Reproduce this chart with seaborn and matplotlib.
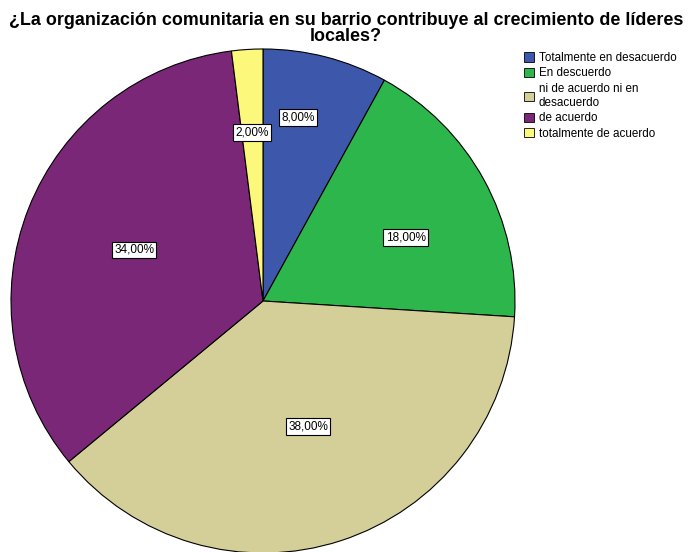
import numpy as np
import matplotlib
matplotlib.use("Agg")
import matplotlib.pyplot as plt
import seaborn as sns
from matplotlib.patches import Patch

sns.set_theme(style="white")
plt.rcParams['font.family'] = ['Liberation Sans', 'DejaVu Sans']
plt.rcParams['text.color'] = 'black'

categories = ["Totalmente en desacuerdo", "En descuerdo", "ni de acuerdo ni en\ndesacuerdo",
              "de acuerdo", "totalmente de acuerdo"]
values = [8.0, 18.0, 38.0, 34.0, 2.0]
pct_labels = ["8,00%", "18,00%", "38,00%", "34,00%", "2,00%"]
colors = ["#3D58AB", "#2DB64B", "#D4CE98", "#7B2778", "#FBF87B"]
label_dist = [0.74, 0.62, 0.53, 0.55, 0.67]
label_shift = [3.6, -4.7, 1.7, 0.0, 0.0]

fig = plt.figure(figsize=(6.89, 5.52), dpi=100)
ax = fig.add_axes([11/689, -1/552, 504/689, 504/552])
wedges, _ = ax.pie(values, colors=colors, startangle=90, counterclock=False,
                   radius=1.0, wedgeprops=dict(edgecolor="black", linewidth=0.8))
ax.set_xlim(-1, 1)
ax.set_ylim(-1, 1)
ax.set_aspect("equal")
ax.axis("off")

for w, lab, d, s in zip(wedges, pct_labels, label_dist, label_shift):
    ang = np.deg2rad((w.theta1 + w.theta2) / 2 + s)
    ax.text(d * np.cos(ang), d * np.sin(ang), lab, ha="center", va="center", fontsize=8.5,
            color="black",
            bbox=dict(boxstyle="square,pad=0.2", facecolor="white", edgecolor="black", linewidth=0.8))

fig.text(0.502, 0.978, "¿La organización comunitaria en su barrio contribuye al crecimiento de líderes\nlocales?",
         ha="center", va="top", fontsize=12.9, fontweight="bold", linespacing=0.92, color="black")

handles = [Patch(facecolor=c, edgecolor="black", linewidth=0.6) for c in colors]
leg = fig.legend(handles, categories, loc="upper left", bbox_to_anchor=(524/689, 1 - 52/552),
                 frameon=False, fontsize=8.4, handlelength=0.85, handleheight=0.85,
                 handletextpad=0.4, labelspacing=0.3, borderaxespad=0, borderpad=0)
for t in leg.get_texts():
    t.set_color("black")

fig.savefig("out.png", dpi=100, facecolor="white")
